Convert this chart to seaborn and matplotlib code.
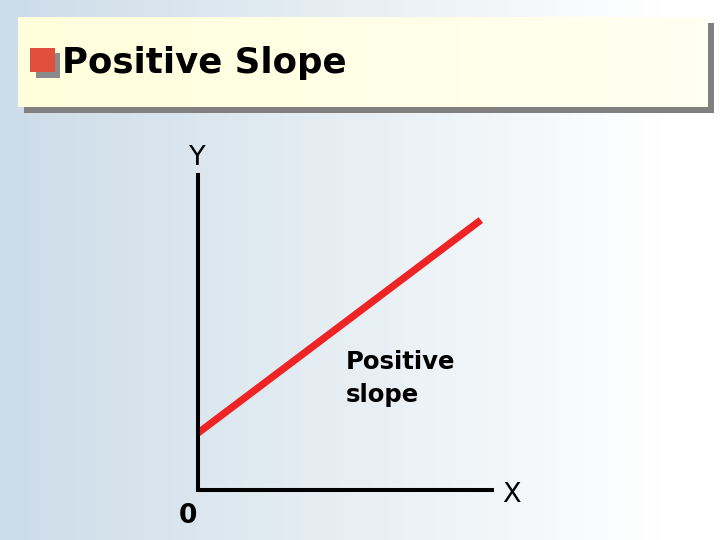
import numpy as np
import pandas as pd
import matplotlib
matplotlib.use("Agg")
import matplotlib.pyplot as plt
from matplotlib.patches import Rectangle
import seaborn as sns

# ---- data ----
line_x = [0.0, 9.62]
line_y = [1.81, 8.57]
title_text = "Positive Slope"
label_lines = ["Positive", "slope"]
y_axis_label = "Y"
x_axis_label = "X"
origin_label = "0"

sns.set_theme(style="white")
plt.rcParams['font.family'] = ['DejaVu Sans']

W, H = 720, 540
fig = plt.figure(figsize=(7.2, 5.4), dpi=100)

# background gradient
bg = fig.add_axes([0, 0, 1, 1], zorder=0)
bg.axis("off")
left = np.array([0.80, 0.863, 0.91])
right = np.array([1.0, 1.0, 1.0])
t = np.clip(np.linspace(0, 1, 256) / 0.92, 0, 1)
grad = left[None, :] * (1 - t[:, None]) + right[None, :] * t[:, None]
bg.imshow(grad[None, :, :], extent=[0, W, H, 0], aspect="auto",
          interpolation="bilinear", zorder=0)

# title box with shadow
bg.add_patch(Rectangle((24, 23), 690, 90, facecolor="#808080", edgecolor="none", zorder=1))
ty = np.array([1.0, 1.0, 0.86])
tw = np.array([1.0, 1.0, 0.95])
tt = np.linspace(0, 1, 128)
tgrad = ty[None, :] * (1 - tt[:, None]) + tw[None, :] * tt[:, None]
bg.imshow(tgrad[None, :, :], extent=[18, 708, 107, 17], aspect="auto",
          interpolation="bilinear", zorder=2)
# bullet
bg.add_patch(Rectangle((36, 53), 24, 25, facecolor="#8a8a8a", edgecolor="none", zorder=3))
bg.add_patch(Rectangle((30, 48), 25, 24, facecolor="#E0503C", edgecolor="none", zorder=4))
bg.text(62, 73, title_text, fontsize=25.6, fontweight="bold", color="black",
        ha="left", va="baseline", zorder=5)
bg.set_xlim(0, W)
bg.set_ylim(H, 0)

# chart axes
ax = fig.add_axes([198 / W, 50 / H, 294 / W, 315 / H], zorder=2)
ax.patch.set_alpha(0)
df = pd.DataFrame({"x": line_x, "y": line_y})
sns.lineplot(data=df, x="x", y="y", ax=ax, color="#EE2424", linewidth=5.2,
             solid_capstyle="butt")
ax.set_xlim(0, 10)
ax.set_ylim(0, 10)
ax.set_xticks([])
ax.set_yticks([])
ax.set_xlabel("")
ax.set_ylabel("")
for s in ["top", "right"]:
    ax.spines[s].set_visible(False)
for s in ["left", "bottom"]:
    ax.spines[s].set_visible(True)
    ax.spines[s].set_color("black")
    ax.spines[s].set_linewidth(2.9)

ax.text(-0.03, 10.32, y_axis_label, fontsize=19.5, ha="center", va="baseline",
        color="black", clip_on=False)
ax.text(10.68, -0.38, x_axis_label, fontsize=19.5, ha="center", va="baseline",
        color="black", clip_on=False)
ax.text(-0.34, -1.05, origin_label, fontsize=19, fontweight="bold", ha="center",
        va="baseline", color="black", clip_on=False)
ax.text(5.03, 3.84, label_lines[0], fontsize=17.6, fontweight="bold", ha="left",
        va="baseline", color="black", clip_on=False)
ax.text(5.03, 2.79, label_lines[1], fontsize=17.6, fontweight="bold", ha="left",
        va="baseline", color="black", clip_on=False)

fig.savefig("out.png", dpi=100)
